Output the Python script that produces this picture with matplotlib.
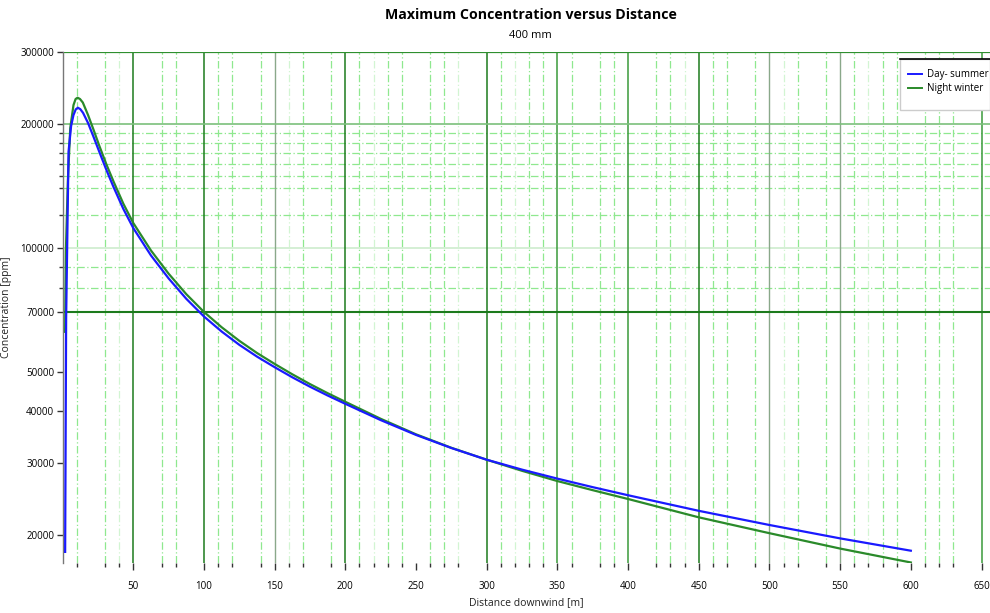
import matplotlib
matplotlib.use("Agg")
import matplotlib.pyplot as plt
from matplotlib.ticker import FixedLocator, NullFormatter
from matplotlib.patches import Rectangle
from matplotlib.lines import Line2D

plt.rcParams['font.family'] = ['Open Sans', 'DejaVu Sans']

# ---- data ----
x_day = [1.8, 2.5, 4.2, 6.0, 7.7, 9.3, 10.8, 12.5, 14.5, 18, 22, 26, 31, 36, 43,
         50, 62.5, 75, 87.5, 100, 112.5, 125, 137.5, 150, 162.5, 175, 187.5, 200,
         225, 250, 275, 300, 325, 350, 375, 400, 450, 500, 550, 600]
day_summer = [18200, 67400, 171500, 198000, 210700, 217500, 219500, 217800, 213200,
              201500, 186000, 171300, 154800, 140800, 124400, 111800, 95900, 84300,
              75200, 68100, 62600, 58100, 54390, 51250, 48430, 45940, 43730, 41740,
              38100, 35060, 32580, 30510, 28860, 27440, 26160, 25000, 22910, 21160,
              19630, 18320]

x_night = [1.8, 2.3, 3.7, 5.4, 7.7, 9.2, 10.6, 12.3, 14.3, 18, 22, 26, 31, 36, 43,
           50, 62.5, 75, 87.5, 100, 112.5, 125, 137.5, 150, 162.5, 175, 187.5, 200,
           225, 250, 275, 300, 325, 350, 375, 400, 450, 500, 550, 600]
night_winter = [62500, 97800, 145000, 195600, 222800, 230500, 232200, 230500, 226000,
                210700, 193500, 177200, 159700, 145200, 128100, 115000, 98600, 86560,
                77180, 69860, 64120, 59420, 55500, 52200, 49250, 46620, 44300, 42210,
                38380, 35180, 32620, 30510, 28670, 27070, 25720, 24480, 22090, 20210,
                18540, 17150]

series_names = ["Day- summer", "Night winter"]
x_tick_labels = [50, 100, 150, 200, 250, 300, 350, 400, 450, 500, 550, 600, 650]
y_tick_labels = [20000, 30000, 40000, 50000, 70000, 100000, 200000, 300000]
y_minor = [80000, 90000, 120000, 140000, 150000, 160000, 170000, 180000, 190000]
threshold = 70000

# grid styling groups
major_dark = [50, 100, 200, 300, 450]
major_mid = [350, 400, 650]
major_grey = [150, 500, 550]
minor_v = [10, 30, 70, 80, 110, 120, 140, 170, 190, 210, 230, 240, 260, 270, 310,
           330, 340, 360, 380, 390, 420, 430, 460, 470, 490, 520, 540, 560, 580,
           590, 610, 620, 630]
minor_v_pale = [40, 160, 220, 280, 320, 440, 510, 570]

fig = plt.figure(figsize=(9.9, 6.13), dpi=100)
ax = fig.add_axes([62.6 / 990, 1 - 563 / 613, (990 - 62.6) / 990, (563 - 52) / 613])
ax.set_yscale('log')
ax.set_xlim(0, 656)
ax.set_ylim(17100, 300000)

# vertical grid
for v in minor_v:
    ax.axvline(v, color='#8fe88f', lw=0.9, ls=(0, (6, 2, 1, 2)), zorder=1)
for v in minor_v_pale:
    ax.axvline(v, color='#d2f5d2', lw=0.9, ls=(0, (6, 2, 1, 2)), zorder=1)
for v in major_dark:
    ax.axvline(v, color='#1c7a1c', lw=1.1, zorder=2)
for v in major_mid:
    ax.axvline(v, color='#3a9a3a', lw=1.1, zorder=2)
for v in major_grey:
    ax.axvline(v, color='#8aa88a', lw=1.0, zorder=2)

# horizontal grid
for v in y_minor:
    ax.axhline(v, color='#8fe88f', lw=0.9, ls=(0, (6, 2, 1, 2)), zorder=1)
ax.axhline(100000, color='#cdeccd', lw=1.2, zorder=1)
ax.axhline(200000, color='#7cc07c', lw=1.2, zorder=2)
ax.axhline(300000, color='#2f8f2f', lw=1.6, zorder=2)
ax.axhline(threshold, color='#1c7a1c', lw=1.5, zorder=2)

# curves
ax.plot(x_day, day_summer, color='#1a1aff', lw=1.6, zorder=4, solid_joinstyle='round')
ax.plot(x_night, night_winter, color='#2a8a2a', lw=1.6, zorder=3, solid_joinstyle='round')

# axes styling
for s in ['top', 'right', 'bottom']:
    ax.spines[s].set_visible(False)
ax.spines['left'].set_color('#777777')
ax.spines['left'].set_linewidth(1.0)

ax.xaxis.set_major_locator(FixedLocator(x_tick_labels))
ax.set_xticklabels([str(v) for v in x_tick_labels])
ax.xaxis.set_minor_locator(FixedLocator(minor_v + minor_v_pale))
ax.tick_params(axis='x', which='major', length=5, width=1.0, color='#333333',
               labelsize=7, pad=8)
ax.tick_params(axis='x', which='minor', length=3, width=1.0, color='#333333')

ax.yaxis.set_major_locator(FixedLocator(y_tick_labels))
ax.set_yticklabels([str(v) for v in y_tick_labels])
ax.yaxis.set_minor_locator(FixedLocator(y_minor))
ax.yaxis.set_minor_formatter(NullFormatter())
ax.tick_params(axis='y', which='major', length=4, width=1.0, color='#333333',
               labelsize=7, pad=2)
ax.tick_params(axis='y', which='minor', length=3, width=1.0, color='#333333')

ax.set_xlabel("Distance downwind [m]", fontsize=7.5, labelpad=4, color='#222222')
ax.set_ylabel("Concentration [ppm]", fontsize=7.5, labelpad=6, color='#222222')

fig.text(531 / 990, 1 - 15 / 613, "Maximum Concentration versus Distance",
         ha='center', va='center', fontsize=10.2, fontweight='bold')
fig.text(530 / 990, 1 - 36 / 613, "400 mm", ha='center', va='center', fontsize=8)

# legend box
x0 = (900 - 62.6) / 927.4
ytop = 1 - (59 - 52) / 511
ybot = 1 - (110 - 52) / 511
ax.add_patch(Rectangle((x0, ybot), 1 - x0, ytop - ybot, transform=ax.transAxes,
                       facecolor='white', edgecolor='#cccccc', lw=1.0, zorder=6,
                       clip_on=False))
ax.plot([x0, 1.0], [ytop, ytop], transform=ax.transAxes, color='black', lw=1.2,
        zorder=7, clip_on=False)
handles = [Line2D([], [], color='#1a1aff', lw=1.4), Line2D([], [], color='#2a8a2a', lw=1.4)]
ax.legend(handles, series_names, loc='upper left', bbox_to_anchor=(x0, ytop - 0.005),
          frameon=False, fontsize=7, handlelength=1.5, handletextpad=0.5,
          labelspacing=0.3, borderpad=0.3)
ax.get_legend().set_zorder(8)

fig.savefig("out.png", dpi=100)
